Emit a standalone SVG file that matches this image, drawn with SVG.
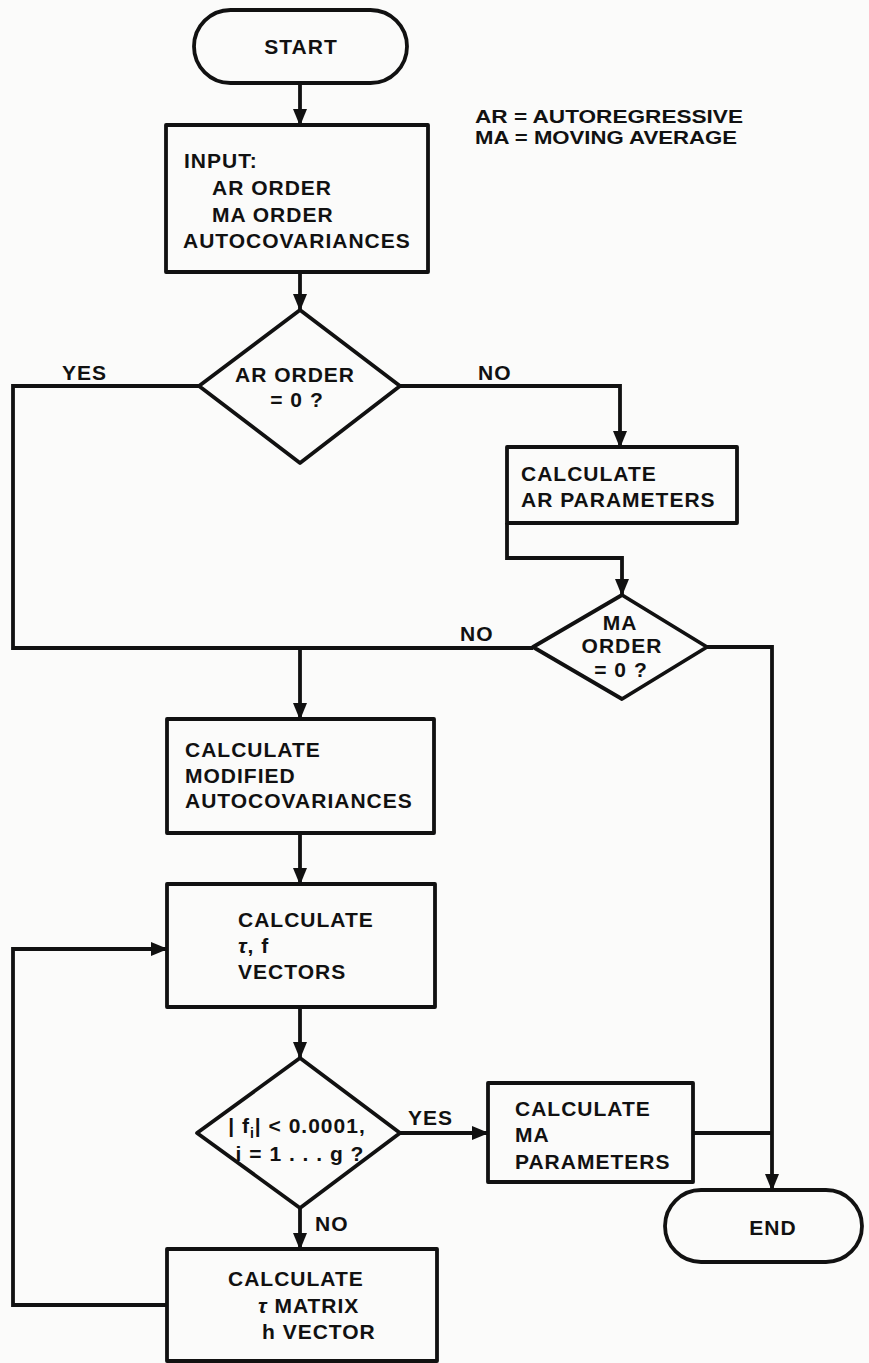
<svg xmlns="http://www.w3.org/2000/svg" width="869" height="1363" viewBox="0 0 869 1363">
<defs>
<marker id="ah" markerUnits="userSpaceOnUse" markerWidth="18" markerHeight="14" refX="16" refY="7" orient="auto">
<path d="M0,0 L17,7 L0,14 z" fill="#111"/>
</marker>
<style>
.n{fill:none;stroke:#111;stroke-width:3.8;stroke-linejoin:round}
.t{font-family:"Liberation Sans",Arial,Helvetica,sans-serif;font-weight:bold;font-size:21px;fill:#111;letter-spacing:1px}
.m{text-anchor:middle}
.l{font-family:"Liberation Sans",Arial,Helvetica,sans-serif;font-weight:bold;font-size:18px;fill:#111}
.c{fill:none;stroke:#111;stroke-width:3.8;stroke-linejoin:miter}
.a{marker-end:url(#ah)}
</style>
</defs>
<rect width="869" height="1363" fill="#fbfbfa"/>

<g id="legend">
<text class="l" x="475" y="123" textLength="268" lengthAdjust="spacingAndGlyphs">AR = AUTOREGRESSIVE</text>
<text class="l" x="475" y="144" textLength="262" lengthAdjust="spacingAndGlyphs">MA = MOVING AVERAGE</text>
</g>

<g id="connectors">
<path class="c a" d="M300,83 V125"/>
<path class="c a" d="M300,272 V310"/>
<path class="c" d="M199,386 H13 V648 H533"/>
<path class="c a" d="M300,648 V719"/>
<path class="c a" d="M400,386 H620 V447"/>
<path class="c a" d="M507,523 V558 H622 V595"/>
<path class="c a" d="M707,647 H772 V1190"/>
<path class="c a" d="M300,833 V884"/>
<path class="c a" d="M300,1007 V1058"/>
<path class="c a" d="M400,1133 H488"/>
<path class="c" d="M693,1133 H772"/>
<path class="c a" d="M300,1208 V1249"/>
<path class="c a" d="M167,1305 H13 V949 H167"/>
<text class="t" x="62" y="380">YES</text>
<text class="t" x="478" y="380">NO</text>
<text class="t" x="460" y="641">NO</text>
<text class="t" x="408" y="1125">YES</text>
<text class="t" x="315" y="1231">NO</text>
</g>

<g id="start">
<rect class="n" x="194" y="10" width="213" height="73" rx="36.5"/>
<text class="t m" x="301" y="54">START</text>
</g>

<g id="input">
<rect class="n" x="166" y="125" width="262" height="147"/>
<text class="t" x="184" y="168">INPUT:</text>
<text class="t" x="212" y="195">AR ORDER</text>
<text class="t" x="212" y="222">MA ORDER</text>
<text class="t" x="183" y="248">AUTOCOVARIANCES</text>
</g>

<g id="ar-order">
<polygon class="n" points="300,310 400,386 300,463 199,386"/>
<text class="t m" x="295" y="382">AR ORDER</text>
<text class="t m" x="297" y="407">= 0 ?</text>
</g>

<g id="ar-params">
<rect class="n" x="507" y="447" width="230" height="76"/>
<text class="t" x="521" y="481">CALCULATE</text>
<text class="t" x="521" y="507">AR PARAMETERS</text>
</g>

<g id="ma-order">
<polygon class="n" points="622,595 707,647 622,699 533,647"/>
<text class="t m" x="620" y="630">MA</text>
<text class="t m" x="622" y="653">ORDER</text>
<text class="t m" x="621" y="677">= 0 ?</text>
</g>

<g id="modified">
<rect class="n" x="167" y="719" width="267" height="114"/>
<text class="t" x="185" y="757">CALCULATE</text>
<text class="t" x="185" y="783">MODIFIED</text>
<text class="t" x="185" y="808">AUTOCOVARIANCES</text>
</g>

<g id="tau-f">
<rect class="n" x="167" y="884" width="268" height="123"/>
<text class="t" x="238" y="927">CALCULATE</text>
<text class="t" x="238" y="953"><tspan font-style="italic">τ</tspan>, f</text>
<text class="t" x="238" y="979">VECTORS</text>
</g>

<g id="converge">
<polygon class="n" points="300,1058 400,1133 300,1208 197,1133"/>
<text class="t m" x="297" y="1133">| f<tspan font-size="14" dy="5">i</tspan><tspan dy="-5">| &lt; 0.0001,</tspan></text>
<text class="t m" x="300" y="1161">i = 1 . . . g ?</text>
</g>

<g id="ma-params">
<rect class="n" x="488" y="1083" width="205" height="99"/>
<text class="t" x="515" y="1116">CALCULATE</text>
<text class="t" x="515" y="1142">MA</text>
<text class="t" x="515" y="1169">PARAMETERS</text>
</g>

<g id="end">
<rect class="n" x="665" y="1190" width="197" height="72" rx="36"/>
<text class="t m" x="773" y="1235">END</text>
</g>

<g id="tau-matrix">
<rect class="n" x="167" y="1249" width="270" height="112"/>
<text class="t" x="228" y="1286">CALCULATE</text>
<text class="t" x="258" y="1313"><tspan font-style="italic">τ</tspan> MATRIX</text>
<text class="t" x="262" y="1339">h VECTOR</text>
</g>
</svg>
